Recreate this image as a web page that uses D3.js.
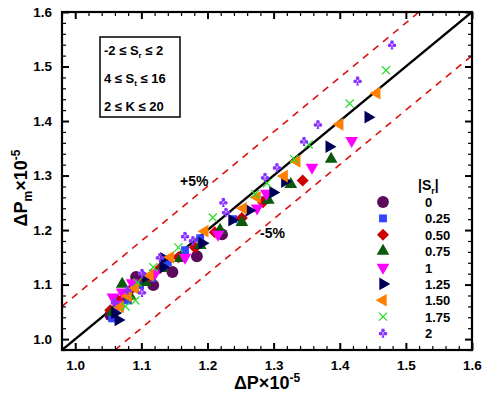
<!DOCTYPE html>
<html><head><meta charset="utf-8">
<script src="https://cdn.jsdelivr.net/npm/d3@7"></script>
<style>body{margin:0;background:#fff}svg{display:block}text{font-family:"Liberation Sans",Arial,sans-serif;font-weight:bold}</style>
</head><body><svg id="c" width="488" height="393"></svg>
<script>
// ---- data ----
const seriesLabels = ["0","0.25","0.50","0.75","1","1.25","1.50","1.75","2"];
const s0   = [[1.053,1.044],[1.065,1.066],[1.076,1.077],[1.092,1.114],[1.118,1.099],[1.147,1.123],[1.184,1.152],[1.222,1.192]];
const s025 = [[1.056,1.038],[1.068,1.060],[1.080,1.071],[1.098,1.099],[1.116,1.112],[1.140,1.141],[1.166,1.163],[1.189,1.185],[1.239,1.220],[1.287,1.255]];
const s050 = [[1.053,1.053],[1.065,1.071],[1.083,1.090],[1.106,1.108],[1.128,1.130],[1.156,1.150],[1.181,1.168],[1.211,1.196],[1.252,1.222],[1.284,1.251],[1.344,1.291]];
const s075 = [[1.056,1.049],[1.071,1.101],[1.083,1.079],[1.106,1.104],[1.131,1.130],[1.159,1.148],[1.189,1.172],[1.219,1.200],[1.252,1.214],[1.292,1.255],[1.326,1.284],[1.387,1.330]];
const s1   = [[1.057,1.077],[1.063,1.064],[1.071,1.086],[1.086,1.103],[1.121,1.121],[1.166,1.150],[1.216,1.192],[1.275,1.240],[1.289,1.267],[1.358,1.315],[1.418,1.364]];
const s125 = [[1.060,1.048],[1.065,1.035],[1.107,1.114],[1.133,1.132],[1.134,1.148],[1.192,1.176],[1.237,1.218],[1.263,1.236],[1.299,1.269],[1.317,1.289],[1.384,1.353],[1.443,1.407]];
const s150 = [[1.068,1.059],[1.080,1.079],[1.091,1.093],[1.113,1.117],[1.144,1.150],[1.196,1.198],[1.254,1.240],[1.275,1.260],[1.316,1.299],[1.335,1.326],[1.400,1.394],[1.456,1.451]];
const s175 = [[1.076,1.060],[1.091,1.071],[1.094,1.104],[1.118,1.132],[1.156,1.168],[1.208,1.223],[1.272,1.266],[1.290,1.286],[1.331,1.330],[1.353,1.357],[1.415,1.432],[1.470,1.493]];
const s2   = [[1.060,1.068],[1.079,1.090],[1.101,1.086],[1.101,1.121],[1.128,1.150],[1.166,1.189],[1.178,1.181],[1.224,1.251],[1.228,1.233],[1.287,1.297],[1.305,1.315],[1.346,1.363],[1.367,1.394],[1.427,1.474],[1.479,1.540]];
const seriesData = [s0,s025,s050,s075,s1,s125,s150,s175,s2];
const majorTicks = [1.0,1.1,1.2,1.3,1.4,1.5,1.6];
const minorTicks = d3.range(0,32).map(i=>+(0.98+i*0.02).toFixed(2));
const parityLine = [[0.98,0.98],[1.6,1.6]];
const upperLine = [[0.98,1.06],[1.52,1.60]];
const lowerLine = [[1.06,0.98],[1.60,1.52]];
const infoLines = [["-2 ≤ S","r"," ≤ 2"],["4 ≤ S","t"," ≤ 16"],["2 ≤ K","",""," ≤ 20"]];

// ---- drawing ----
const svg = d3.select("#c");
const L=62,R=472,T=12,B=350;
const x = d3.scaleLinear([0.98,1.6],[L,R]);
const y = d3.scaleLinear([0.98,1.6],[B,T]);

svg.append("defs").append("clipPath").attr("id","clip").append("rect")
  .attr("x",L).attr("y",T).attr("width",R-L).attr("height",B-T);

const line = d3.line().x(d=>x(d[0])).y(d=>y(d[1]));
const g = svg.append("g").attr("clip-path","url(#clip)");
g.append("path").attr("d",line(upperLine)).attr("stroke","#dd1111").attr("stroke-width",1.6).attr("stroke-dasharray","7,6").attr("fill","none");
g.append("path").attr("d",line(lowerLine)).attr("stroke","#dd1111").attr("stroke-width",1.6).attr("stroke-dasharray","7,6").attr("fill","none");
g.append("path").attr("d",line(parityLine)).attr("stroke","#000").attr("stroke-width",2.4).attr("fill","none");

// custom club symbol
const symbolClub = {draw(ctx,size){
  const s=Math.sqrt(size)/9;
  const r=1.9*s;
  [[0,-2.5],[-2.4,0.6],[2.4,0.6]].forEach(([cx,cy])=>{cx*=s;cy*=s;ctx.moveTo(cx+r,cy);ctx.arc(cx,cy,r,0,Math.PI*2);});
  ctx.moveTo(0,-0.5*s);ctx.lineTo(1.4*s,4.8*s);ctx.lineTo(-1.4*s,4.8*s);ctx.closePath();
}};
const styles = [
  {type:d3.symbolCircle,size:110,rot:0,color:"#5c0a5c",fill:true},
  {type:d3.symbolSquare,size:62,rot:0,color:"#3344ff",fill:true},
  {type:d3.symbolSquare,size:72,rot:45,color:"#cc0000",fill:true},
  {type:d3.symbolTriangle,size:70,rot:0,color:"#0b5a0b",fill:true},
  {type:d3.symbolTriangle,size:70,rot:180,color:"#ff00ff",fill:true},
  {type:d3.symbolTriangle,size:70,rot:90,color:"#000058",fill:true},
  {type:d3.symbolTriangle,size:70,rot:-90,color:"#ff8000",fill:true},
  {type:d3.symbolX,size:45,rot:0,color:"#22dd22",fill:false},
  {type:symbolClub,size:81,rot:0,color:"#8833ff",fill:true}
];
function styleSym(sel,st){
  sel.attr("d",d3.symbol(st.type,st.size)())
    .attr("fill",st.fill?st.color:"none")
    .attr("stroke",st.fill?"none":st.color)
    .attr("stroke-width",st.fill?0:1.2);
}
const pts = svg.append("g");
seriesData.forEach((data,i)=>{
  const st=styles[i];
  pts.selectAll(null).data(data).join("path")
    .attr("transform",d=>`translate(${x(d[0])},${y(d[1])}) rotate(${st.rot})`)
    .call(styleSym,st);
});

// axes (inward ticks on all sides)
function addAxis(axisFn,scale,tr,labels){
  const maj=axisFn(scale).tickValues(majorTicks).tickSize(-7).tickPadding(labels?10:0)
    .tickFormat(labels?d3.format(".1f"):"");
  const mi=axisFn(scale).tickValues(minorTicks.filter(v=>!majorTicks.some(m=>Math.abs(m-v)<1e-6))).tickSize(-4).tickFormat("");
  const a=svg.append("g").attr("transform",tr).call(maj);
  a.select(".domain").remove();
  a.selectAll("line").attr("stroke","#000").attr("stroke-width",2);
  a.selectAll("text").attr("font-size",13.5).attr("fill","#000").attr("font-family","Liberation Sans, Arial, sans-serif").attr("font-weight","bold");
  const b=svg.append("g").attr("transform",tr).call(mi);
  b.select(".domain").remove();
  b.selectAll("line").attr("stroke","#000").attr("stroke-width",1.2);
}
addAxis(d3.axisBottom,x,`translate(0,${B})`,true);
addAxis(d3.axisTop,x,`translate(0,${T})`,false);
addAxis(d3.axisLeft,y,`translate(${L},0)`,true);
addAxis(d3.axisRight,y,`translate(${R},0)`,false);
svg.append("rect").attr("x",L).attr("y",T).attr("width",R-L).attr("height",B-T)
  .attr("fill","none").attr("stroke","#000").attr("stroke-width",2.2);

// axis titles
const xt=svg.append("text").attr("x",267).attr("y",389).attr("text-anchor","middle").attr("font-size",18);
xt.append("tspan").text("ΔP×10");
xt.append("tspan").attr("dy",-7).attr("font-size",12).text("-5");
const yt=svg.append("text").attr("transform","translate(27,188) rotate(-90)").attr("text-anchor","middle").attr("font-size",18);
yt.append("tspan").text("ΔP");
yt.append("tspan").attr("dy",5).attr("font-size",12).text("m");
yt.append("tspan").attr("dy",-5).text("×10");
yt.append("tspan").attr("dy",-7).attr("font-size",12).text("-5");

// info box
svg.append("rect").attr("x",100).attr("y",37).attr("width",80).attr("height",80)
  .attr("fill","none").attr("stroke","#000").attr("stroke-width",1.5);
const infoY=[55,83,111];
infoLines.forEach((ln,i)=>{
  const t=svg.append("text").attr("x",104).attr("y",infoY[i]).attr("font-size",13);
  t.append("tspan").text(ln[0]);
  if(ln[1]){t.append("tspan").attr("dy",3).attr("font-size",8).text(ln[1]);
    t.append("tspan").attr("dy",-3).text(ln[2]);}
  else t.append("tspan").text(ln[3]);
});

// percent labels
svg.append("text").attr("x",180).attr("y",186).attr("font-size",14).attr("font-weight","normal").text("+5%");
svg.append("text").attr("x",260).attr("y",238).attr("font-size",14).attr("font-weight","normal").text("-5%");

// legend
const lt=svg.append("text").attr("x",418).attr("y",190).attr("font-size",14).attr("font-weight","normal");
lt.append("tspan").text("|S");
lt.append("tspan").attr("dy",4).attr("font-size",9).text("r");
lt.append("tspan").attr("dy",-4).text("|");
const legY=d3.scaleLinear([0,8],[202,333]);
seriesLabels.forEach((lab,i)=>{
  const st=styles[i];
  svg.append("path").attr("transform",`translate(383,${legY(i)}) rotate(${st.rot})`).call(styleSym,st);
  svg.append("text").attr("x",425).attr("y",legY(i)+5).attr("font-size",13).text(lab);
});
</script></body></html>
